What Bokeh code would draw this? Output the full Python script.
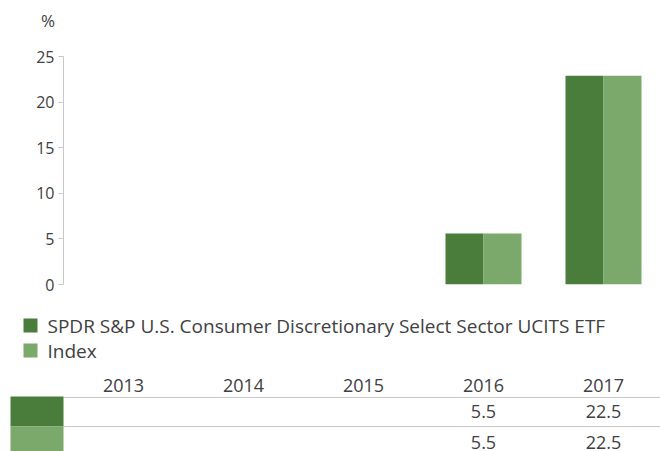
import math
from bokeh.plotting import figure
from bokeh.models import Range1d, FixedTicker
from bokeh.core.properties import value
from bokeh.embed import file_html
from bokeh.resources import INLINE

# ---- data ----
years = ["2013", "2014", "2015", "2016", "2017"]
fund_values = [math.nan, math.nan, math.nan, 5.6, 22.9]
index_values = [math.nan, math.nan, math.nan, 5.6, 22.9]
fund_labels = ["", "", "", "5.5", "22.5"]
index_labels = ["", "", "", "5.5", "22.5"]
series_names = ["SPDR S&P U.S. Consumer Discretionary Select Sector UCITS ETF", "Index"]
y_ticks = [0, 5, 10, 15, 20, 25]
unit_label = "%"

# ---- style / layout ----
FONT = "Open Sans"
TXT = "#404040"
GRID = "#c8c8c8"
COLORS = ["#4a7c3b", "#7aa96b"]
W = 660
LEFT = 63
CAT_W = 120.0
BAR_W = 38 / CAT_W

xs = [i + 0.5 for i in range(len(years))]


def blank(fig):
    fig.xaxis.visible = False
    fig.yaxis.visible = False
    fig.grid.visible = False
    fig.outline_line_color = None


# ---- header with unit ----
h = figure(width=W, height=40, x_range=Range1d(0, W), y_range=Range1d(40, 0),
           min_border_left=0, min_border_right=0, min_border_top=0, min_border_bottom=0,
           toolbar_location=None, output_backend="svg")
blank(h)
h.text(x=[47.5], y=[20], text=[unit_label], text_font=value(FONT), text_font_size="17px",
       text_color=TXT, text_align="center", text_baseline="alphabetic")

# ---- chart ----
p = figure(width=W, height=260,
           x_range=Range1d(0, (W - LEFT) / CAT_W), y_range=Range1d(0, 25),
           min_border_left=LEFT, min_border_right=0, min_border_top=16, min_border_bottom=16,
           toolbar_location=None, output_backend="svg")
p.outline_line_color = None
p.xaxis.visible = False
p.xgrid.visible = False
p.ygrid.ticker = FixedTicker(ticks=[0, 25])
p.ygrid.grid_line_color = GRID
p.yaxis.ticker = FixedTicker(ticks=y_ticks)
p.yaxis.axis_line_color = GRID
p.yaxis.major_tick_line_color = GRID
p.yaxis.major_tick_out = 5
p.yaxis.major_tick_in = 0
p.yaxis.minor_tick_line_color = None
p.yaxis.major_label_text_font = FONT
p.yaxis.major_label_text_font_size = "16px"
p.yaxis.major_label_text_color = TXT
p.yaxis.major_label_standoff = 4

p.vbar(x=[x - BAR_W / 2 for x in xs], top=fund_values, width=BAR_W,
       fill_color=COLORS[0], line_color=None)
p.vbar(x=[x + BAR_W / 2 for x in xs], top=index_values, width=BAR_W,
       fill_color=COLORS[1], line_color=None)

# ---- legend + table ----
def px(xp):
    return (xp - LEFT) / CAT_W

q = figure(width=W, height=151,
           x_range=Range1d(-LEFT / CAT_W, (W - LEFT) / CAT_W), y_range=Range1d(151, 0),
           min_border_left=0, min_border_right=0, min_border_top=0, min_border_bottom=0,
           toolbar_location=None, output_backend="svg")
blank(q)

# legend
q.quad(left=[px(23)] * 2, right=[px(37)] * 2, top=[18, 43], bottom=[32, 57],
       fill_color=COLORS, line_color=None)
q.text(x=[px(47)] * 2, y=[25.5, 50.5], text=series_names,
       text_font=value(FONT), text_font_size="19px", text_color=TXT,
       text_baseline="alphabetic", text_align="left")

# table
q.text(x=xs, y=[84.5] * len(xs), text=years, text_font=value(FONT), text_font_size="18px",
       text_color=TXT, text_align="center", text_baseline="alphabetic")
q.segment(x0=[0, 0], x1=[px(W), px(W)], y0=[97, 126], y1=[97, 126],
          line_color=GRID, line_width=1)
q.quad(left=[px(10)] * 2, right=[0, 0], top=[96, 126], bottom=[126, 151],
       fill_color=COLORS, line_color=None)
q.text(x=xs, y=[111] * len(xs), text=fund_labels, text_font=value(FONT), text_font_size="18px",
       text_color=TXT, text_align="center", text_baseline="alphabetic")
q.text(x=xs, y=[142] * len(xs), text=index_labels, text_font=value(FONT), text_font_size="18px",
       text_color=TXT, text_align="center", text_baseline="alphabetic")

open("out.html", "w").write(file_html([h, p, q], INLINE))
